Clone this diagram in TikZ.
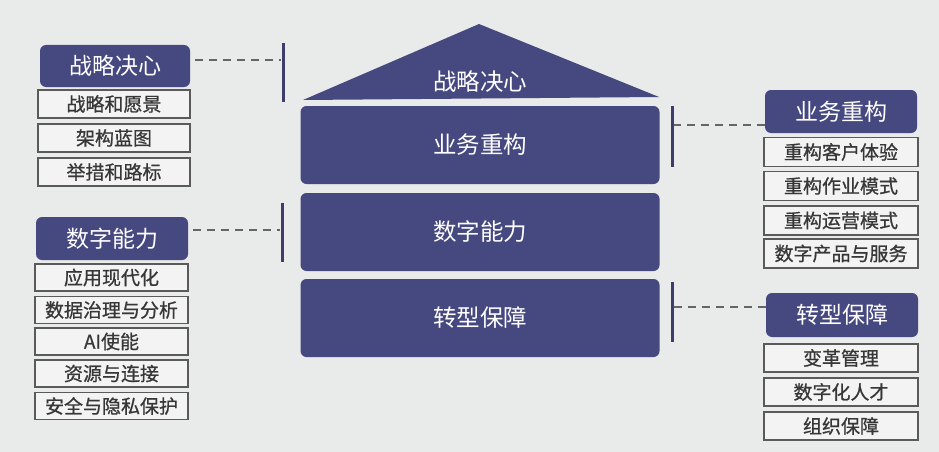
\documentclass[tikz,border=0pt]{standalone}
\usepackage{fontspec}
\newfontfamily\cjk{Noto Sans CJK SC}
\newfontfamily\cjkb[FakeBold=0.8]{Noto Sans CJK SC}
\definecolor{navy}{RGB}{70,72,128}
\definecolor{bg}{RGB}{233,234,234}
\definecolor{subfill}{RGB}{243,243,243}
\definecolor{subline}{RGB}{90,90,90}
\definecolor{subtext}{RGB}{55,55,55}
\definecolor{dashc}{RGB}{100,100,105}
\tikzset{
  hdr/.style={draw=none, fill=navy, rounded corners=6pt, text=white, inner sep=0pt,
     minimum width=152pt, minimum height=43pt, font=\cjk\fontsize{23}{25}\selectfont},
  subbox/.style={draw=subline, line width=1.4pt, fill=subfill, text=subtext, inner sep=0pt,
     minimum width=153pt, minimum height=27pt, font=\cjkb\fontsize{19}{21}\selectfont},
  layer/.style={draw=none, fill=navy, rounded corners=6pt, text=white, inner sep=0pt,
     minimum width=359pt, minimum height=78pt, font=\cjk\fontsize{23.5}{25}\selectfont},
  bar/.style={draw=none, fill=navy!85!black, inner sep=0pt, minimum width=3pt},
  dashline/.style={draw=dashc, line width=1.6pt, dash pattern=on 8pt off 6pt},
}
\begin{document}
\begin{tikzpicture}[x=1pt,y=-1pt]
\fill[bg] (0,0) rectangle (939,452);
\useasboundingbox (0,0) rectangle (939,452);

% central house
\fill[navy] (303,100) -- (479,24) -- (659,97) -- cycle;
\node[text=white, font=\cjk\fontsize{23.5}{25}\selectfont] (roof) at (480,82) {战略决心};
\node[layer] (b1) at (480,145) {业务重构};
\node[layer] (b2) at (480,232) {数字能力};
\node[layer] (b3) at (480,318) {转型保障};

% left group 1
\node[hdr, minimum width=150pt, minimum height=42pt] (hL1) at (115,66) {战略决心};
\node[subbox, minimum width=152pt, minimum height=28pt] (l11) at (114,104) {战略和愿景};
\node[subbox, minimum width=152pt, minimum height=28pt] (l12) at (114,138) {架构蓝图};
\node[subbox, minimum width=152pt, minimum height=28pt] (l13) at (114,172) {举措和路标};
\node[bar, minimum height=59pt] (barL1) at (283,72.5) {};
\draw[dashline] ([xshift=5pt,yshift=6pt]hL1.east) -- ([yshift=6pt]hL1.east -| barL1.west);

% left group 2
\node[hdr] (hL2) at (112,238.5) {数字能力};
\node[subbox] (l21) at (111.5,277.5) {应用现代化};
\node[subbox] (l22) at (111.5,310) {数据治理与分析};
\node[subbox] (l23) at (111.5,341.5) {AI使能};
\node[subbox] (l24) at (111.5,373.5) {资源与连接};
\node[subbox] (l25) at (111.5,406) {安全与隐私保护};
\node[bar, minimum height=59pt] (barL2) at (282,232.5) {};
\draw[dashline] ([xshift=5pt,yshift=8.5pt]hL2.east) -- ([yshift=8.5pt]hL2.east -| barL2.west);

% right group 1
\node[hdr] (hR1) at (841,111.5) {业务重构};
\node[subbox, minimum width=154pt, minimum height=29pt] (r11) at (841,152) {重构客户体验};
\node[subbox, minimum width=154pt, minimum height=29pt] (r12) at (841,186) {重构作业模式};
\node[subbox, minimum width=154pt, minimum height=29pt] (r13) at (841,220.5) {重构运营模式};
\node[subbox, minimum width=154pt, minimum height=29pt] (r14) at (841,253.5) {数字产品与服务};
\node[bar, minimum height=61pt] (barR1) at (672,136.5) {};
\draw[dashline] ([yshift=-13.5pt]hR1.west) -- ([yshift=-13.5pt]hR1.west -| barR1.east);

% right group 2
\node[hdr, minimum height=44pt] (hR2) at (842,315) {转型保障};
\node[subbox, minimum width=154pt, minimum height=28pt] (r21) at (841,358) {变革管理};
\node[subbox, minimum width=154pt, minimum height=28pt] (r22) at (841,392) {数字化人才};
\node[subbox, minimum width=154pt, minimum height=28pt] (r23) at (841,426) {组织保障};
\node[bar, minimum height=60pt] (barR2) at (672,312) {};
\draw[dashline] ([yshift=8pt]hR2.west) -- ([yshift=8pt]hR2.west -| barR2.east);
\end{tikzpicture}
\end{document}
